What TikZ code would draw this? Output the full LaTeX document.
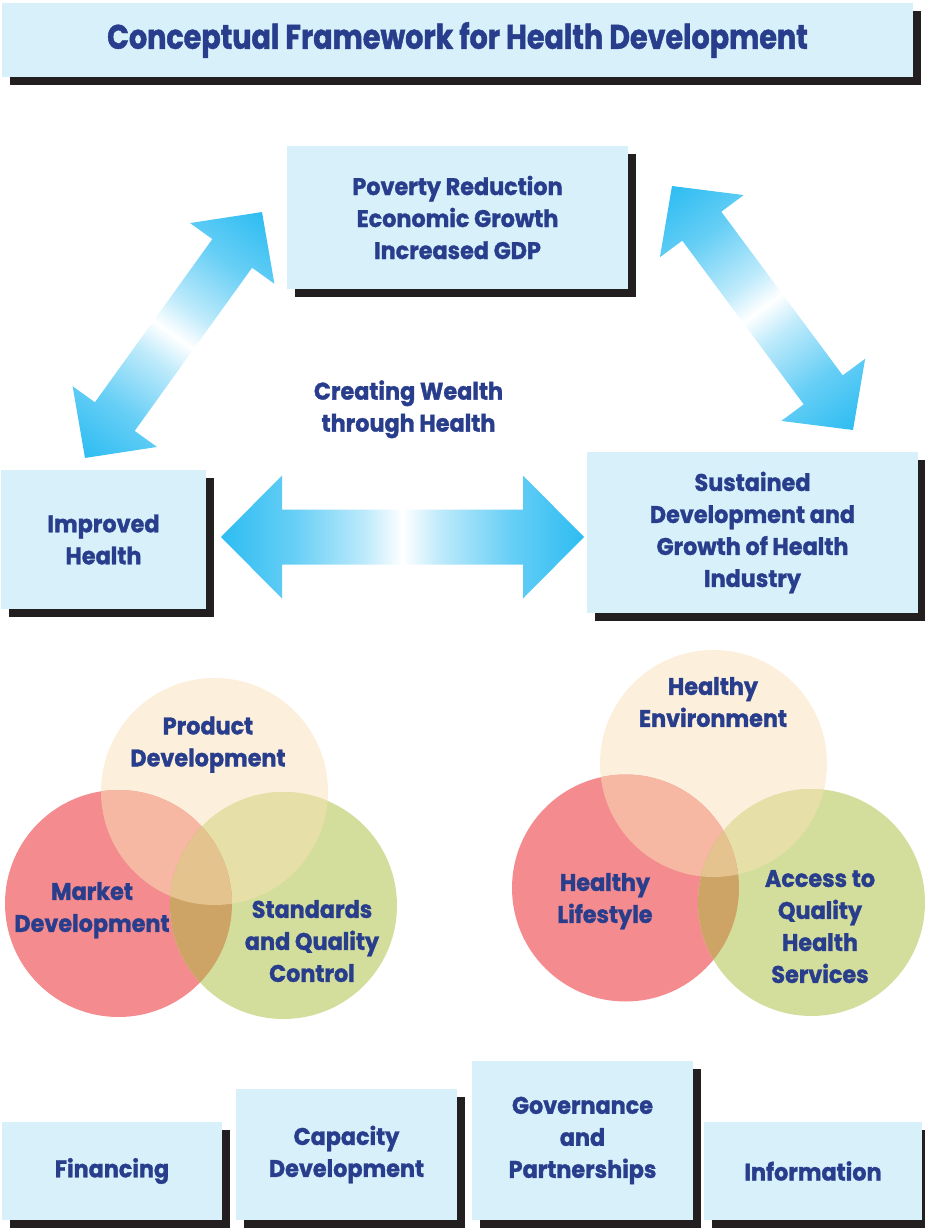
\documentclass[tikz,border=0pt]{standalone}
\usepackage{fontspec}
\newfontfamily\bodyfont{Poppins}[FakeStretch=0.93,FakeBold=1.3]
\newfontfamily\titlefont{Poppins}[FakeStretch=0.84,FakeBold=1.3]
\usetikzlibrary{shadows}
\definecolor{boxc}{RGB}{216,240,250}
\definecolor{shadowc}{RGB}{35,31,32}
\definecolor{txtc}{RGB}{40,62,140}
\definecolor{cyanc}{RGB}{0,174,239}
\definecolor{creamc}{RGB}{252,239,219}
\definecolor{redc}{RGB}{244,139,142}
\definecolor{greenc}{RGB}{212,222,156}
\definecolor{rcc}{RGB}{246,184,163}
\definecolor{cgc}{RGB}{230,223,168}
\definecolor{rgc}{RGB}{206,163,102}
\definecolor{allc}{RGB}{229,195,143}
\colorlet{cyanA}{cyanc!60}
\colorlet{cyanB}{cyanc!25}
\pgfdeclarehorizontalshading{arrowshade}{100bp}{color(0bp)=(cyanc); color(17bp)=(cyanc); color(35bp)=(cyanA); color(45bp)=(cyanB); color(50bp)=(white); color(55bp)=(cyanB); color(65bp)=(cyanA); color(83bp)=(cyanc); color(100bp)=(cyanc)}
% #1,#2 centre, #3 angle, #4 half length, #5 half shaft width, #6 half head width, #7 head length
\newcommand\blockarrow[7]{%
  \begin{scope}[transform canvas={shift={(#1,#2)},rotate=#3}]
    \shade[shading=arrowshade] (-#4,0) -- (-#4+#7,#6) -- (-#4+#7,#5) -- (#4-#7,#5) -- (#4-#7,#6) -- (#4,0)
      -- (#4-#7,-#6) -- (#4-#7,-#5) -- (-#4+#7,-#5) -- (-#4+#7,-#6) -- cycle;
  \end{scope}}
\newcommand\vennset[3]{%
  \fill[creamc] (#1) circle[radius=113.5];
  \fill[redc] (#2) circle[radius=113.5];
  \fill[greenc] (#3) circle[radius=113.5];
  \begin{scope}\clip (#1) circle[radius=113.5]; \fill[rcc] (#2) circle[radius=113.5];\end{scope}
  \begin{scope}\clip (#1) circle[radius=113.5]; \fill[cgc] (#3) circle[radius=113.5];\end{scope}
  \begin{scope}\clip (#2) circle[radius=113.5]; \fill[rgc] (#3) circle[radius=113.5];\end{scope}
  \begin{scope}\clip (#1) circle[radius=113.5]; \clip (#2) circle[radius=113.5]; \fill[allc] (#3) circle[radius=113.5];\end{scope}}
\tikzset{
  bodyf/.style={font=\bodyfont\bfseries\fontsize{24}{32}\selectfont},
  boxst/.style={bodyf, fill=boxc, inner sep=0pt, align=center, text=txtc,
    drop shadow={shadow xshift=8pt, shadow yshift=-8pt, fill=shadowc, opacity=1}},
  lbl/.style={bodyf, align=center, text=txtc, inner sep=0pt, text depth=0pt}
}
\begin{document}
\begin{tikzpicture}[x=1pt,y=-1pt]
\useasboundingbox (0,0) rectangle (924,1228);
% title
\node[boxst, minimum width=911pt, minimum height=74pt,
  font=\titlefont\bfseries\fontsize{34}{36}\selectfont] (title) at (457.5,40) {Conceptual Framework for Health Development};
% main boxes
\node[boxst, minimum width=341pt, minimum height=143pt] (pov) at (457.5,217.5) {Poverty Reduction\\Economic Growth\\Increased GDP};
\node[boxst, minimum width=205pt, minimum height=139pt] (imp) at (103.5,539.5) {Improved\\Health};
\node[boxst, minimum width=331pt, minimum height=161pt] (sus) at (752.5,532.5) {Sustained\\Development and\\Growth of Health\\Industry};
% arrows
\blockarrow{173.5}{335}{54.26}{151.5}{24.5}{52}{51}
\blockarrow{762.5}{308}{-53.43}{151.9}{24.3}{52.2}{50}
\blockarrow{402.5}{537}{0}{181.5}{27.5}{61.5}{61}
\node[lbl] (cw) at (408.5,406) {Creating Wealth\\through Health};
% left venn
\coordinate (P) at (214.5,791.5);
\coordinate (M) at (118.5,903.5);
\coordinate (S) at (283.5,905.5);
\vennset{P}{M}{S}
\node[lbl] (pd) at (208,741.5) {Product\\Development};
\node[lbl] (md) at (92,907) {Market\\Development};
\node[lbl] (sq) at (312,941) {Standards\\and Quality\\Control};
% right venn
\coordinate (E) at (713.5,763.5);
\coordinate (L) at (625.5,888);
\coordinate (A) at (811.5,902.5);
\vennset{E}{L}{A}
\node[lbl] (he) at (713,702) {Healthy\\Environment};
\node[lbl] (hl) at (605,898) {Healthy\\Lifestyle};
\node[lbl] (aq) at (820,926.5) {Access to\\Quality\\Health\\Services};
% bottom boxes
\node[boxst, minimum width=220pt, minimum height=98pt] (fin) at (112,1171) {Financing};
\node[boxst, minimum width=221pt, minimum height=131pt] (cap) at (346.5,1154.5) {Capacity\\Development};
\node[boxst, minimum width=221pt, minimum height=159pt] (gov) at (582.5,1140.5) {Governance\\and\\Partnerships};
\node[boxst, minimum width=218pt, minimum height=98pt] (inf) at (813,1171) {Information};
\end{tikzpicture}
\end{document}
